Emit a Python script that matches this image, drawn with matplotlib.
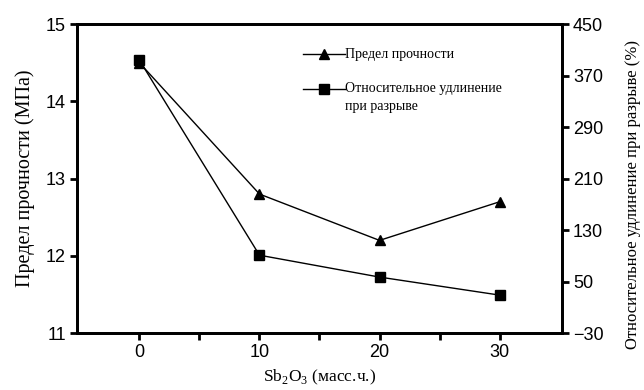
import numpy as np
import matplotlib.pyplot as plt
from matplotlib.lines import Line2D

plt.rcParams['mathtext.fontset'] = 'custom'
plt.rcParams['mathtext.rm'] = 'Liberation Serif'

# Sb2O3 content and measured properties
sb2o3 = [0, 10, 20, 30]
strength = [14.5, 12.8, 12.2, 12.7]          # MPa
elongation = [394, 91, 57, 29]               # %

x_ticks = [0, 10, 20, 30]
x_minor = [5, 15, 25]
left_ticks = [11, 12, 13, 14, 15]
right_ticks = [-30, 50, 130, 210, 290, 370, 450]

tick_font = {'family': 'Liberation Sans', 'size': 13}
serif = 'Liberation Serif'

fig = plt.figure(figsize=(6.44, 3.9), dpi=100)
ax = fig.add_axes([0.1196, 0.146, 0.753, 0.792])
ax2 = ax.twinx()

ax.plot(sb2o3, strength, '-', color='black', lw=1.0, marker='^', ms=7, zorder=3)
ax2.plot(sb2o3, elongation, '-', color='black', lw=1.0, marker='s', ms=7, zorder=3)

ax.set_xlim(-5.2, 35.2)
ax.set_ylim(11, 15)
ax2.set_ylim(-30, 450)

ax.set_xticks(x_ticks)
ax.set_xticks(x_minor, minor=True)
ax.set_yticks(left_ticks)
ax2.set_yticks(right_ticks)
ax2.set_yticklabels(['\u221230'] + [str(t) for t in right_ticks[1:]])

for a in (ax, ax2):
    for s in a.spines.values():
        s.set_linewidth(2.0)
    a.tick_params(which='both', direction='out', length=5, width=2.0, pad=3)
    for lbl in a.get_xticklabels() + a.get_yticklabels():
        lbl.set_fontfamily(tick_font['family'])
        lbl.set_fontsize(tick_font['size'])

ax.set_xlabel(r'Sb$_{2}$O$_{3}$ (масс.ч.)', family=serif, fontsize=12.5, labelpad=5)
ax.set_ylabel('Предел прочности (МПа)', family=serif, fontsize=14.5, labelpad=8)
ax2.set_ylabel('Относительное удлинение при разрыве (%)', family=serif, fontsize=12,
               rotation=90)
ax2.yaxis.set_label_coords(1.13, 0.45)

handles = [
    Line2D([], [], color='black', lw=1.0, marker='^', ms=7),
    Line2D([], [], color='black', lw=1.0, marker='s', ms=7),
]
labels = ['Предел прочности', 'Относительное удлинение\nпри разрыве']
leg = ax.legend(handles, labels, loc='upper left', bbox_to_anchor=(0.44, 0.962),
                frameon=False, handlelength=3.0, handletextpad=0.0, labelspacing=1.5,
                prop={'family': serif, 'size': 10})
for t in leg.get_texts():
    t.set_linespacing(1.45)

# put the square handle level with the first line of its two-line label
sq = leg.legend_handles[1]
sq.set_ydata(np.asarray(sq.get_ydata()) + 6.5)

fig.savefig('out.png', dpi=100)
